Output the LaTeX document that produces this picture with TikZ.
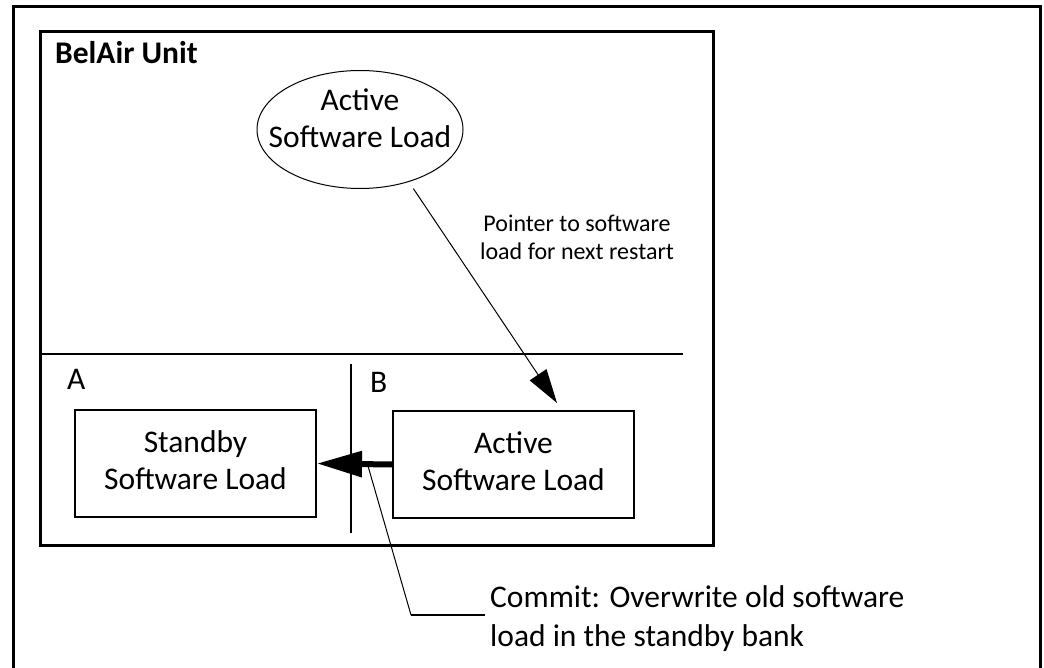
\documentclass[tikz,border=0pt]{standalone}
\usepackage{fontspec}
\setmainfont{Carlito}
\usetikzlibrary{shapes.geometric}
\usetikzlibrary{arrows.meta}
\tikzset{
    % text of the diagram, all in one size
    bigtext/.style={font=\fontsize{31.5}{37}\selectfont,inner sep=0pt},
    % boxes that hold a software load
    loadbox/.style={draw,line width=2pt,minimum width=241pt,minimum height=107pt,
        align=center,text depth=7pt,font=\fontsize{31.5}{37}\selectfont},
}

\begin{document}
\begin{tikzpicture}[x=1pt,y=-1pt]
    \useasboundingbox (0,0) rectangle (1044,668);
    \draw[line width=3pt] (13,668) -- (13,7) -- (1040,7) -- (1040,668);
    \draw[line width=3pt] (40,32) rectangle (713,545);
    \node[bigtext,font=\bfseries\fontsize{31.5}{37}\selectfont,anchor=base west] (unit) at (55,64) {BelAir Unit};
    \node[ellipse,draw,line width=1pt,minimum width=206pt,minimum height=118pt,inner sep=0pt] (loadTop) at (360,129.5) {};
    \node[bigtext,align=center,anchor=north] (loadTopText) at (360,89) {Active\\Software Load};
    \node[font=\fontsize{24}{28}\selectfont,align=center,anchor=north,inner sep=0pt] (ptrText) at (577,215) {Pointer to software\\load for next restart};
    \draw[line width=2pt] (40,354) -- (683,354);
    \draw[line width=2pt] (351,364) -- (351,533);
    \node[bigtext,anchor=base west] (bankA) at (67,389) {A};
    \node[bigtext,anchor=base west] (bankB) at (370,392) {B};
    \node[loadbox] (oldLoad) at (195.5,463.5) {Standby\\Software Load};
    \node[loadbox] (newLoad) at (513.5,464.5) {Active\\Software Load};
    \draw[line width=6pt,-{Triangle[length=45pt,width=25pt]}] (newLoad.west) -- (oldLoad.east);
    \coordinate (ptrTip) at (557,403);
    \draw[line width=1pt,shorten <=8pt,-{Triangle[length=34pt,width=20pt]}] (loadTop.-47) -- (ptrTip);
    % callout for the commit step
    \coordinate (cmtStart) at (368,466);
    \coordinate (cmtCorner) at (411,615);
    \node[bigtext,font=\fontsize{31.5}{39}\selectfont,align=left,anchor=north west] (commit) at (490,585) {Commit: Overwrite old software\\load in the standby bank};
    \draw[line width=1pt] (cmtStart) -- (cmtCorner);
    \draw[line width=2pt,shorten >=5pt] (cmtCorner) -- (cmtCorner -| commit.west);
\end{tikzpicture}
\end{document}
